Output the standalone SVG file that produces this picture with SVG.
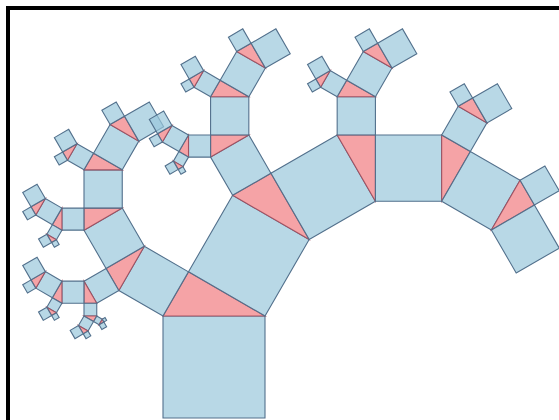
<svg xmlns="http://www.w3.org/2000/svg" xmlns:xlink="http://www.w3.org/1999/xlink" width="559" height="420" viewBox="0 0 559 420">
  <style>
    .s { fill: #9ac8dc; fill-opacity: 0.7; stroke: #52708c; stroke-width: 1.1; vector-effect: non-scaling-stroke; }
    .t { fill: #f5a3a6; stroke: #a04858; stroke-width: 1.1; vector-effect: non-scaling-stroke; stroke-opacity: 0.85; }
    .frame { fill: none; stroke: #000; stroke-width: 4; }
  </style>
  <defs>
    <rect id="sq" class="s" x="0" y="-1" width="1" height="1"/>
    <polygon id="tri" class="t" points="0,-1 1,-1 0.25,-1.4330127"/>
    <g id="L5"><use href="#sq"/></g>
    <g id="L4"><use href="#sq"/><use href="#tri"/><use href="#L5" transform="translate(0,-1) rotate(-60) scale(0.5)"/><use href="#L5" transform="translate(0.25,-1.4330127) rotate(30) scale(0.8660254)"/></g>
    <g id="L3"><use href="#sq"/><use href="#tri"/><use href="#L4" transform="translate(0,-1) rotate(-60) scale(0.5)"/><use href="#L4" transform="translate(0.25,-1.4330127) rotate(30) scale(0.8660254)"/></g>
    <g id="L2"><use href="#sq"/><use href="#tri"/><use href="#L3" transform="translate(0,-1) rotate(-60) scale(0.5)"/><use href="#L3" transform="translate(0.25,-1.4330127) rotate(30) scale(0.8660254)"/></g>
    <g id="L1"><use href="#sq"/><use href="#tri"/><use href="#L2" transform="translate(0,-1) rotate(-60) scale(0.5)"/><use href="#L2" transform="translate(0.25,-1.4330127) rotate(30) scale(0.8660254)"/></g>
    <g id="L0"><use href="#sq"/><use href="#tri"/><use href="#L1" transform="translate(0,-1) rotate(-60) scale(0.5)"/><use href="#L1" transform="translate(0.25,-1.4330127) rotate(30) scale(0.8660254)"/></g>
  </defs>
  <rect id="frame" class="frame" x="8" y="8" width="560" height="420"/>
  <g id="tree">
    <use href="#L0" transform="translate(163,418) scale(102)"/>
  </g>
</svg>
